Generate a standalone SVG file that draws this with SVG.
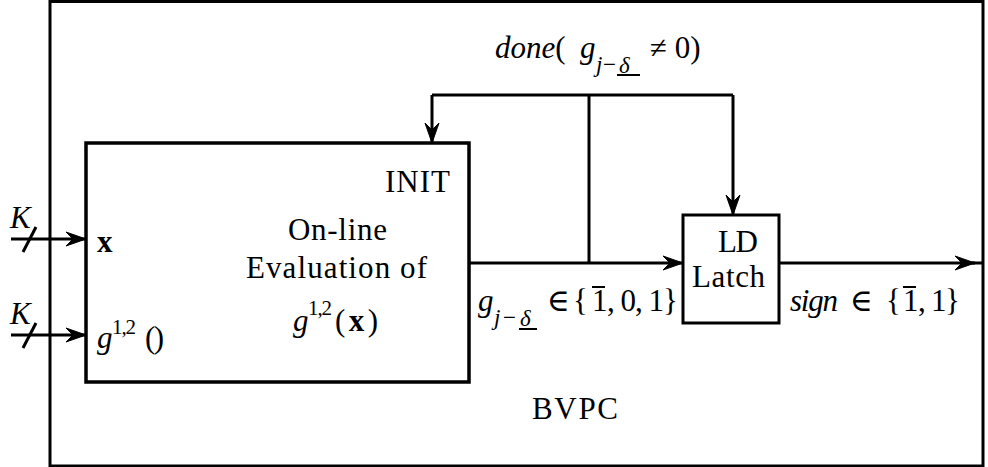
<svg xmlns="http://www.w3.org/2000/svg" width="988" height="467" viewBox="0 0 988 467">
<style>
.t{font-family:"Liberation Serif","DejaVu Serif",serif;font-size:31px;fill:#000}
.i{font-style:italic}
.b{font-weight:bold}
.s{font-size:21px}
.sub{font-size:23px}
.box{fill:none;stroke:#000;stroke-width:3.5}
.ln{fill:none;stroke:#000;stroke-width:3}
.thin{fill:none;stroke:#000;stroke-width:2}
</style>
<defs>
<marker id="ah" markerUnits="userSpaceOnUse" markerWidth="24" markerHeight="18" viewBox="-22 -9 24 18" refX="0" refY="0" orient="auto">
<path d="M0,0 L-20,-7 L-13,0 L-20,7 Z" fill="#000" stroke="#000" stroke-width="1"/>
</marker>
</defs>
<rect width="988" height="467" fill="#fff"/>

<g id="bvpc">
<rect x="50" y="1.5" width="933" height="464.5" class="ln"/>
<text x="532" y="419" class="t" textLength="86">BVPC</text>
</g>

<g id="evaluator">
<rect x="86" y="143" width="383" height="239" class="box"/>
<text x="385" y="192" class="t" textLength="65">INIT</text>
<text x="288" y="240" class="t" textLength="99">On-line</text>
<text x="246" y="278" class="t" textLength="181">Evaluation of</text>
<text x="293" y="331" class="t i">g</text>
<text x="308" y="315" class="t s" textLength="24">1,2</text>
<text x="335" y="331" class="t" textLength="43">(<tspan class="b">x</tspan>)</text>
<text x="97" y="252" class="t b">x</text>
<text x="97" y="348" class="t i">g</text>
<text x="112" y="334" class="t s" textLength="24">1,2</text>
<text x="145" y="348" class="t" textLength="19">()</text>
</g>

<g id="latch">
<rect x="683" y="215" width="96" height="108" class="ln"/>
<text x="718" y="252" class="t" textLength="40">LD</text>
<text x="692" y="287" class="t" textLength="73">Latch</text>
</g>

<g id="connectors">
<path d="M11,239 H86" class="ln" marker-end="url(#ah)"/>
<path d="M11,335 H86" class="ln" marker-end="url(#ah)"/>
<path d="M23,252 L36,227" class="ln"/>
<path d="M23,348 L36,323" class="ln"/>
<path d="M469,263 H683" class="ln" marker-end="url(#ah)"/>
<path d="M589,263 V95" class="ln"/>
<path d="M432,95 H733" class="ln"/>
<path d="M432,95 V143" class="ln" marker-end="url(#ah)"/>
<path d="M733,95 V215" class="ln" marker-end="url(#ah)"/>
<path d="M779,263 H975" class="ln" marker-end="url(#ah)"/>
<path d="M972,263 H983" class="ln"/>
</g>

<g id="labels">
<text x="10" y="228" class="t i">K</text>
<text x="10" y="324" class="t i">K</text>

<text x="495" y="58" class="t"><tspan class="i">done</tspan>(</text>
<text x="580" y="58" class="t i">g</text>
<text x="596" y="72" class="t sub i">j</text>
<text x="603" y="72" class="t sub">−</text>
<text x="619" y="73" class="t sub i">δ</text>
<line x1="617" y1="75" x2="640" y2="75" class="thin"/>
<text x="650" y="58" class="t">≠ 0)</text>

<text x="478" y="311" class="t i">g</text>
<text x="494" y="325" class="t sub i">j</text>
<text x="503" y="325" class="t sub">−</text>
<text x="520" y="326" class="t sub i">δ</text>
<line x1="519" y1="329" x2="537" y2="329" class="thin"/>
<text x="547" y="311" class="t">∈</text>
<text x="573" y="311" class="t">{</text>
<text x="592" y="311" class="t">1</text>
<line x1="592" y1="287" x2="605" y2="287" class="thin"/>
<text x="607" y="311" class="t" textLength="71">, 0, 1}</text>

<text x="790" y="311" class="t i" textLength="48">sign</text>
<text x="850" y="311" class="t">∈</text>
<text x="886" y="311" class="t">{</text>
<text x="903" y="311" class="t">1</text>
<line x1="903" y1="287" x2="916" y2="287" class="thin"/>
<text x="918" y="311" class="t" textLength="42">, 1}</text>
</g>
</svg>
